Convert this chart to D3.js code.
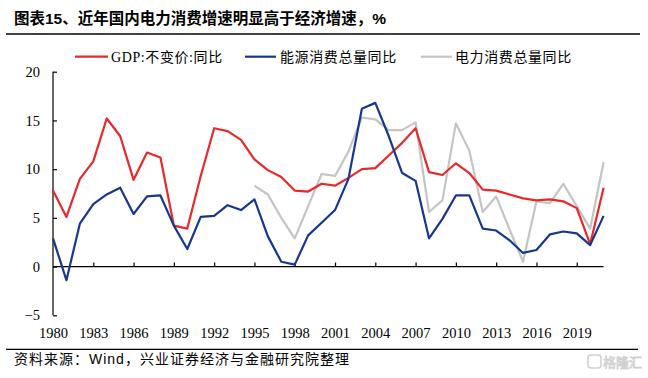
<!DOCTYPE html>
<html><head><meta charset="utf-8">
<script src="https://cdn.jsdelivr.net/npm/d3@7/dist/d3.min.js"></script>
<style>
html,body{margin:0;padding:0;background:#fff;}
svg{display:block;}
</style></head>
<body>
<svg id="chart" width="648" height="378"></svg>
<script>
const years = d3.range(1980, 2022);
const gdpGrowth = [7.8,5.1,9.0,10.8,15.2,13.4,8.9,11.7,11.2,4.2,3.9,9.3,14.2,13.9,13.0,11.0,9.9,9.2,7.8,7.7,8.5,8.3,9.1,10.0,10.1,11.4,12.7,14.2,9.7,9.4,10.6,9.6,7.9,7.8,7.4,7.0,6.8,6.9,6.7,6.0,2.3,8.1];
const energyGrowth = [2.9,-1.4,4.4,6.4,7.4,8.1,5.4,7.2,7.3,4.2,1.8,5.1,5.2,6.3,5.8,6.9,3.1,0.5,0.2,3.2,4.5,5.8,9.0,16.2,16.8,13.4,9.6,8.8,2.9,4.9,7.3,7.3,3.9,3.7,2.7,1.4,1.7,3.3,3.6,3.4,2.2,5.2];
const electricityGrowth = [null,null,null,null,null,null,null,null,null,null,null,null,null,null,null,8.3,7.4,5.0,2.9,6.2,9.5,9.3,11.8,15.3,15.1,14.0,14.0,14.8,5.6,6.8,14.7,11.9,5.6,7.2,3.8,0.5,6.7,6.5,8.5,6.2,3.9,10.7];
const seriesNames = ["GDP:不变价:同比","能源消费总量同比","电力消费总量同比"];
const seriesColors = ["#e8282b","#17378f","#c4c4c4"];
const xTicks = d3.range(1980, 2020, 3);
const yTicks = [-5,0,5,10,15,20];
const titleText = "图表15、近年国内电力消费增速明显高于经济增速，%";
const sourceText = "资料来源：Wind，兴业证券经济与金融研究院整理";

const svg = d3.select("#chart");
svg.append("rect").attr("width",648).attr("height",378).attr("fill","#fff");

const x = d3.scaleLinear().domain([1980, 2021]).range([53, 603.6]);
const y = d3.scaleLinear().domain([-5, 20]).range([315.3, 71.7]);

const serif = "'Liberation Serif','Times New Roman',serif";
const cjk = "'Liberation Serif','Noto Sans CJK SC',serif";

// title
svg.append("text").attr("x",14).attr("y",24)
  .attr("font-family","'Liberation Sans','Noto Sans CJK SC',sans-serif")
  .attr("font-weight","bold").attr("font-size",15.5).attr("fill","#000")
  .text(titleText);
svg.append("line").attr("x1",6).attr("x2",640).attr("y1",34).attr("y2",34)
  .attr("stroke","#000").attr("stroke-width",1.3);

// footer
svg.append("line").attr("x1",6).attr("x2",638).attr("y1",349.3).attr("y2",349.3)
  .attr("stroke","#000").attr("stroke-width",1.3);
svg.append("text").attr("x",14).attr("y",364)
  .attr("font-family","'Liberation Sans','Noto Sans CJK SC',sans-serif")
  .attr("font-size",14).attr("letter-spacing",1).attr("fill","#000")
  .text(sourceText);
// watermark
const wm = svg.append("g").attr("opacity",0.55);
wm.append("rect").attr("x",588).attr("y",355).attr("width",13).attr("height",13).attr("rx",3)
  .attr("fill","none").attr("stroke","#aaa").attr("stroke-width",1.5);
wm.append("text").attr("x",603).attr("y",367).attr("font-family","'Noto Sans CJK SC',sans-serif")
  .attr("font-size",13).attr("fill","#fff").attr("stroke","#aaa").attr("stroke-width",0.8).text("格隆汇");

// y axis
const yAxis = svg.append("g").attr("transform",`translate(${x(1980)},0)`)
  .call(d3.axisLeft(y).tickValues(yTicks).tickSize(-4).tickPadding(13).tickFormat(d3.format("d")));
yAxis.selectAll("path,line").attr("stroke","#000").attr("stroke-width",1.2);
yAxis.select(".domain").attr("d",`M0,${y(-5)}V${y(20)}`);
yAxis.selectAll("text").attr("font-family",serif).attr("font-size",14.5).attr("fill","#000");

// x axis line at zero with inward ticks
const xAxis = svg.append("g").attr("transform",`translate(0,${y(0)})`)
  .call(d3.axisBottom(x).tickValues(xTicks.filter(d=>d>1980)).tickSize(-4).tickFormat(""));
xAxis.selectAll("path,line").attr("stroke","#000").attr("stroke-width",1.2);
xAxis.select(".domain").attr("d",`M${x(1980)},0H${x(2021)}`);

// x labels at bottom
const xLab = svg.append("g").attr("transform",`translate(0,${y(-5)})`)
  .call(d3.axisBottom(x).tickValues(xTicks).tickSize(0).tickPadding(12).tickFormat(d3.format("d")));
xLab.select(".domain").remove();
xLab.selectAll("text").attr("font-family",serif).attr("font-size",14.5).attr("fill","#000");

// lines
const data = [gdpGrowth, energyGrowth, electricityGrowth];
const lineGen = d3.line().defined(d=>d[1]!==null).x(d=>x(d[0])).y(d=>y(d[1]));
const drawOrder = [2,0,1];
drawOrder.forEach(i=>{
  svg.append("path").datum(years.map((yr,j)=>[yr,data[i][j]]))
    .attr("d",lineGen).attr("fill","none").attr("stroke",seriesColors[i])
    .attr("stroke-width",2.2).attr("stroke-linejoin","round");
});

// legend
const legendX = [[75,108,111],[245,276,280],[421,452,455]];
seriesNames.forEach((name,i)=>{
  const [a,b,t] = legendX[i];
  svg.append("line").attr("x1",a).attr("x2",b).attr("y1",56.7).attr("y2",56.7)
    .attr("stroke",seriesColors[i]).attr("stroke-width",2.2);
  svg.append("text").attr("x",t).attr("y",56.7).attr("dy","0.35em")
    .attr("font-family",cjk).attr("font-size",14).attr("letter-spacing",0.6).attr("fill","#000")
    .text(name);
});
</script>
</body></html>
